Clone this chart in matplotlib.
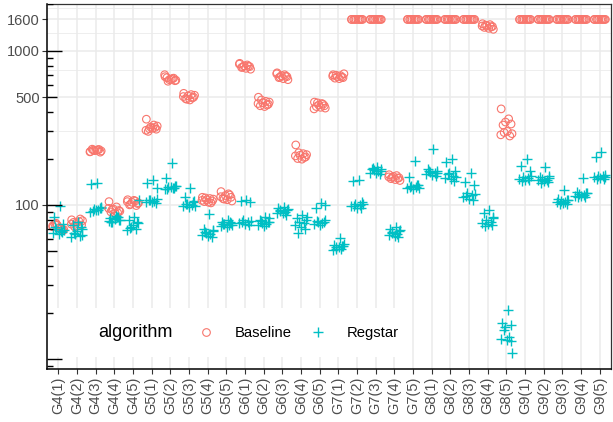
import numpy as np
import matplotlib.pyplot as plt
from matplotlib.lines import Line2D
from matplotlib.patches import Rectangle
from matplotlib.ticker import NullFormatter

plt.rcParams['font.family'] = ['Liberation Sans', 'DejaVu Sans']

# categories on the x axis
categories = ['G4(1)', 'G4(2)', 'G4(3)', 'G4(4)', 'G4(5)',
              'G5(1)', 'G5(2)', 'G5(3)', 'G5(4)', 'G5(5)',
              'G6(1)', 'G6(2)', 'G6(3)', 'G6(4)', 'G6(5)',
              'G7(1)', 'G7(2)', 'G7(3)', 'G7(4)', 'G7(5)',
              'G8(1)', 'G8(2)', 'G8(3)', 'G8(4)', 'G8(5)',
              'G9(1)', 'G9(2)', 'G9(3)', 'G9(4)', 'G9(5)']

# runtime per run, Baseline (1600 = timeout)
baseline = [
    [72, 70, 74, 68, 75, 71, 69, 73, 70, 76],
    [80, 78, 76, 74, 77, 73, 79, 75, 81, 72],
    [222, 228, 225, 220, 230, 226, 224, 221, 229, 227],
    [105, 97, 94, 92, 90, 88, 91, 95, 89, 93],
    [108, 106, 104, 102, 100, 107, 103, 105, 99, 101],
    [360, 330, 320, 310, 300, 315, 325, 305, 318, 312],
    [680, 660, 650, 640, 670, 655, 645, 700, 665, 635],
    [530, 520, 510, 500, 490, 480, 515, 505, 495, 485],
    [112, 110, 108, 106, 105, 104, 109, 107, 103, 111],
    [122, 118, 115, 112, 110, 108, 106, 113, 116, 109],
    [830, 810, 800, 790, 780, 770, 760, 820, 795, 785],
    [500, 470, 460, 450, 440, 435, 465, 455, 445, 480],
    [720, 700, 690, 680, 670, 660, 650, 710, 685, 675],
    [245, 215, 210, 205, 200, 198, 212, 208, 203, 218],
    [465, 455, 445, 440, 435, 430, 425, 420, 450, 460],
    [700, 690, 680, 670, 665, 660, 710, 685, 675, 695],
    [1600, 1600, 1600, 1600, 1600, 1600, 1600, 1600, 1600, 1600],
    [1600, 1600, 1600, 1600, 1600, 1600, 1600, 1600, 1600, 1600],
    [157, 155, 153, 150, 148, 146, 144, 152, 149, 151],
    [1600, 1600, 1600, 1600, 1600, 1600, 1600, 1600, 1600, 1600],
    [1600, 1600, 1600, 1600, 1600, 1600, 1600, 1600, 1600, 1600],
    [1600, 1600, 1600, 1600, 1600, 1600, 1600, 1600, 1600, 1600],
    [1600, 1600, 1600, 1600, 1600, 1600, 1600, 1600, 1600, 1600],
    [1500, 1480, 1460, 1440, 1420, 1400, 1380, 1450, 1430, 1470],
    [420, 362, 345, 335, 330, 300, 290, 285, 280, 295],
    [1600, 1600, 1600, 1600, 1600, 1600, 1600, 1600, 1600, 1600],
    [1600, 1600, 1600, 1600, 1600, 1600, 1600, 1600, 1600, 1600],
    [1600, 1600, 1600, 1600, 1600, 1600, 1600, 1600, 1600, 1600],
    [1600, 1600, 1600, 1600, 1600, 1600, 1600, 1600, 1600, 1600],
    [1600, 1600, 1600, 1600, 1600, 1600, 1600, 1600, 1600, 1600],
]

# runtime per run, Regstar
regstar = [
    [98, 84, 75, 70, 68, 66, 65, 67, 72, 69],
    [78, 74, 70, 65, 63, 62, 68, 72, 66, 64],
    [138, 136, 96, 94, 92, 90, 93, 95, 91, 97],
    [85, 82, 80, 78, 83, 79, 81, 84, 77, 80],
    [83, 80, 76, 72, 70, 69, 74, 78, 71, 108],
    [145, 139, 129, 108, 106, 104, 105, 103, 107, 110],
    [188, 150, 132, 130, 128, 126, 131, 129, 127, 133],
    [128, 112, 106, 102, 100, 98, 97, 104, 101, 99],
    [87, 70, 68, 66, 65, 64, 63, 62, 67, 69],
    [80, 78, 76, 75, 74, 73, 72, 77, 75, 74],
    [108, 106, 105, 80, 78, 76, 75, 74, 77, 79],
    [84, 80, 78, 76, 75, 74, 73, 77, 79, 82],
    [97, 95, 93, 92, 90, 89, 88, 86, 91, 94],
    [86, 82, 80, 78, 76, 74, 72, 70, 66, 84],
    [103, 96, 80, 78, 76, 75, 74, 77, 79, 100],
    [61, 55, 54, 53, 52, 51, 53, 54, 52, 56],
    [145, 143, 104, 102, 100, 98, 96, 95, 99, 101],
    [176, 172, 170, 168, 165, 162, 160, 158, 174, 166],
    [72, 70, 68, 66, 65, 64, 63, 62, 67, 69],
    [192, 152, 135, 132, 130, 128, 126, 134, 131, 129],
    [232, 170, 166, 163, 160, 158, 156, 154, 165, 162],
    [199, 190, 165, 160, 155, 150, 147, 143, 158, 152],
    [161, 141, 135, 120, 116, 112, 110, 108, 114, 118],
    [93, 88, 84, 80, 78, 76, 75, 74, 73, 82],
    [20.8, 17.2, 16.6, 16.0, 13.8, 13.5, 13.2, 13.0, 15.5, 10.9],
    [199, 178, 165, 152, 150, 148, 146, 144, 142, 155],
    [175, 152, 150, 148, 146, 144, 142, 140, 138, 155],
    [125, 110, 108, 106, 105, 104, 103, 102, 101, 107],
    [150, 122, 120, 118, 116, 115, 114, 113, 112, 119],
    [221, 205, 157, 155, 153, 151, 150, 148, 147, 152],
]

# fixed horizontal spread inside each category (stands in for jitter)
jit_a = np.array([-0.28, 0.12, -0.05, 0.25, -0.18, 0.05, 0.3, -0.3, 0.18, -0.12])
jit_b = np.array([0.08, -0.22, 0.27, -0.1, 0.15, -0.3, 0.02, 0.22, -0.15, 0.3])

red = '#F8766D'
teal = '#00BFC4'

fig = plt.figure(figsize=(6.13, 4.22), dpi=100)
ax = fig.add_axes([0.0767, 0.1256, 0.92, 0.8661])

for i, (b, r) in enumerate(zip(baseline, regstar)):
    ax.scatter(i + jit_a, b, s=30, facecolors='none', edgecolors=red, linewidths=0.8, zorder=3)
    ax.scatter(i + jit_b, r, s=60, marker='+', color=teal, linewidths=1.0, zorder=3)

ax.set_yscale('log')
ax.set_ylim(8.6, 2030)
ax.set_xlim(-0.6, len(categories) - 0.4)

ax.set_yticks([100, 500, 1000, 1600])
ax.set_yticklabels(['100', '500', '1000', '1600'])
ax.set_yticks([300, 750, 1300, 1900], minor=True)
ax.yaxis.set_minor_formatter(NullFormatter())
ax.set_xticks(range(len(categories)))
ax.set_xticklabels(categories, rotation=90)

ax.set_axisbelow(True)
ax.grid(True, which='major', color='#EBEBEB', lw=1.1)
ax.grid(True, which='minor', axis='y', color='#EBEBEB', lw=0.6)
ax.tick_params(axis='both', which='major', direction='out', length=3.3, width=0.8,
               color='#333333', labelcolor='#4D4D4D', labelsize=10.5, pad=2)
ax.tick_params(axis='y', which='minor', length=0)

for side in ['top', 'right']:
    ax.spines[side].set_color('#333333')
    ax.spines[side].set_linewidth(0.9)
for side in ['left', 'bottom']:
    ax.spines[side].set_color('black')
    ax.spines[side].set_linewidth(1.1)

# log ticks drawn inside the panel on the left
ytr = ax.get_yaxis_transform()
for dec in [1, 10, 100, 1000]:
    for m in range(1, 10):
        v = m * dec
        if 8.6 <= v <= 2030:
            if m == 1:
                L = 15 / 564
            elif m == 5:
                L = 10 / 564
            else:
                L = 5.5 / 564
            ax.plot([0, L], [v, v], transform=ytr, color='black', lw=1.0,
                    solid_capstyle='butt', zorder=6)

# legend inside the panel, title to the left
ax.add_patch(Rectangle((0.005, 0.033), 0.63, 0.134, transform=ax.transAxes,
                       facecolor='white', edgecolor='none', zorder=2))
ax.text(0.0904, 0.0985, 'algorithm', transform=ax.transAxes, fontsize=13,
        va='center', ha='left', color='black', zorder=7)
handles = [Line2D([], [], linestyle='none', marker='o', markersize=5.5,
                  markerfacecolor='none', markeredgecolor=red, markeredgewidth=0.8),
           Line2D([], [], linestyle='none', marker='+', markersize=7.5,
                  color=teal, markeredgewidth=1.0)]
leg = ax.legend(handles, ['Baseline', 'Regstar'], ncol=2, frameon=False,
                loc='center left', bbox_to_anchor=(0.2457, 0.0985),
                fontsize=10.7, handlelength=1.0, handletextpad=1.44,
                columnspacing=1.24, borderpad=0.4)
leg.set_zorder(7)

fig.savefig('out.png', dpi=100)
